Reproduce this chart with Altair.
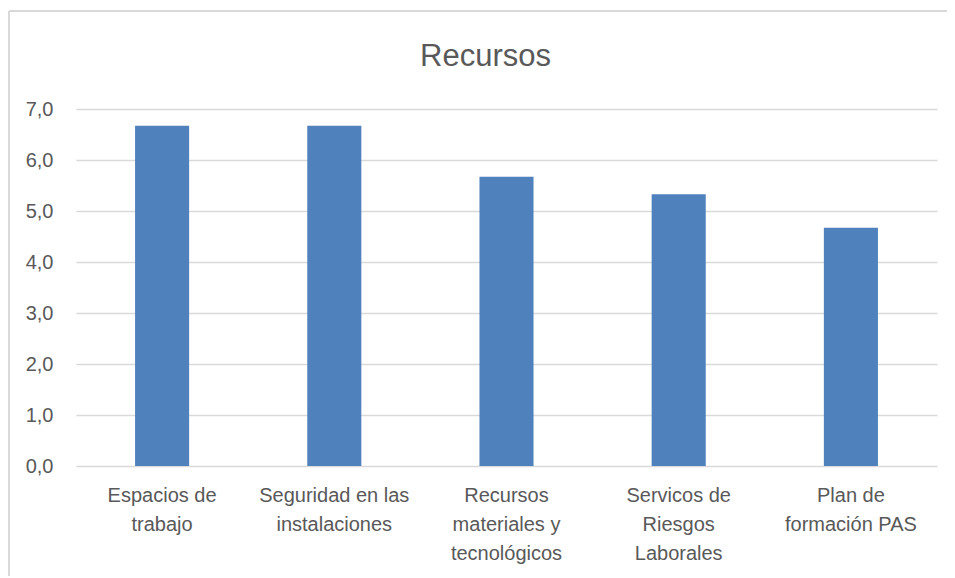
import altair as alt
import pandas as pd

categories = [
    "Espacios de\ntrabajo",
    "Seguridad en las\ninstalaciones",
    "Recursos\nmateriales y\ntecnológicos",
    "Servicos de\nRiesgos\nLaborales",
    "Plan de\nformación PAS",
]
values = [6.67, 6.67, 5.67, 5.33, 4.67]
y_ticks = [0, 1, 2, 3, 4, 5, 6, 7]

df = pd.DataFrame({"cat": categories, "val": values})

W, H = 861, 357
FONT = "Liberation Sans"
GREY = "#595959"

bars = alt.Chart(df).mark_bar(color="#4F81BD").encode(
    x=alt.X(
        "cat:N",
        sort=categories,
        scale=alt.Scale(paddingInner=0.686, paddingOuter=0.343),
        axis=alt.Axis(
            title=None,
            labelAngle=0,
            labelExpr="split(datum.label, '\\n')",
            labelFont=FONT,
            labelFontSize=20,
            labelColor=GREY,
            labelLineHeight=29,
            labelBaseline="top",
            labelPadding=19,
            ticks=False,
            domain=False,
        ),
    ),
    y=alt.Y(
        "val:Q",
        scale=alt.Scale(domain=[0, 7], nice=False),
        axis=alt.Axis(
            title=None,
            values=y_ticks,
            labelExpr="replace(format(datum.value, '.1f'), '.', ',')",
            labelFont=FONT,
            labelFontSize=20,
            labelColor=GREY,
            labelPadding=23,
            ticks=False,
            domain=False,
            grid=True,
            gridColor="#d9d9d9",
            gridWidth=1.5,
        ),
    ),
)

frame_top = alt.Chart(df).mark_rule(color="#d9d9d9", strokeWidth=2).encode(
    x=alt.value(-67), x2=alt.value(W + 30), y=alt.value(-98)
)
frame_left = alt.Chart(df).mark_rule(color="#d9d9d9", strokeWidth=2).encode(
    x=alt.value(-67), y=alt.value(-98), y2=alt.value(H + 120)
)

chart = (
    alt.layer(frame_top, frame_left, bars)
    .properties(
        width=W,
        height=H,
        title=alt.TitleParams(
            "Recursos",
            font=FONT,
            fontSize=31,
            fontWeight="normal",
            color=GREY,
            anchor="middle",
            baseline="alphabetic",
            offset=-87,
            dx=-21,
        ),
        autosize=alt.AutoSizeParams(type="none"),
        padding={"left": 68, "top": 101, "right": 10, "bottom": 110},
    )
    .configure_view(stroke=None)
)

chart.save("out.html", embed_options={"renderer": "svg", "actions": False})
